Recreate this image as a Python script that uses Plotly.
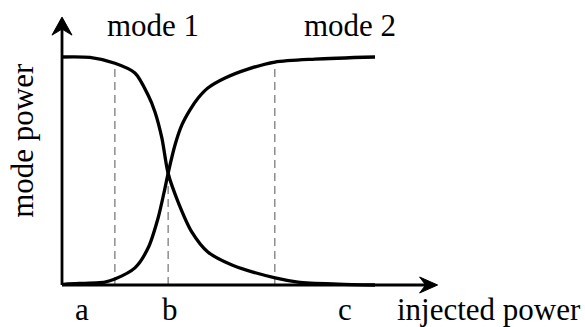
import plotly.graph_objects as go

# ---- data (x = injected power, y = mode power, normalised) ----
mode1_x = [0, 0.89, 1.69, 2.33, 2.75, 2.97, 3.19, 3.39, 3.71, 4.15, 4.66, 5.43, 6.81, 7.54, 8.82, 10.0]
mode1_y = [1.0, 0.998, 0.9725, 0.93, 0.833, 0.759, 0.645, 0.49, 0.364, 0.232, 0.145, 0.088, 0.031, 0.013, 0.004, 0.0]

mode2_x = [0, 0.19, 1.37, 1.69, 2.33, 2.75, 3.07, 3.29, 3.39, 3.61, 3.83, 4.09, 4.35, 4.66, 5.21, 5.94, 6.80, 8.08, 10.0]
mode2_y = [0.002, 0.005, 0.013, 0.026, 0.075, 0.162, 0.294, 0.425, 0.49, 0.614, 0.702, 0.768, 0.820, 0.864, 0.908, 0.947, 0.978, 0.991, 1.0]

marker_x = [1.69, 3.39, 6.80]          # dashed guide lines
marker_top = [0.9725, 0.49, 0.978]

region_labels = ["a", "b", "c"]
region_label_x = [0.64, 3.45, 9.04]

x_axis_end = 12.0
y_axis_end = 1.175

W, H = 585, 327
x_range = [-1.981, 16.709]
y_range = [-0.1842, 1.25]
px_x = W / (x_range[1] - x_range[0])
px_y = H / (y_range[1] - y_range[0])

FONT = "Liberation Serif"
FS = 31

fig = go.Figure()

# dashed guides
for xv, top in zip(marker_x, marker_top):
    fig.add_trace(go.Scatter(x=[xv, xv], y=[0, top], mode="lines",
                             line=dict(color="#555555", width=1, dash="8px,5px"),
                             hoverinfo="skip", showlegend=False))

# curves
for xs, ys in [(mode1_x, mode1_y), (mode2_x, mode2_y)]:
    fig.add_trace(go.Scatter(x=xs, y=ys, mode="lines",
                             line=dict(color="black", width=3.3, shape="spline", smoothing=0.8),
                             hoverinfo="skip", showlegend=False))

# axes
fig.add_trace(go.Scatter(x=[0, 0, None, 0, x_axis_end - 3 / px_x],
                         y=[0, y_axis_end - 3 / px_y, None, 0, 0],
                         mode="lines", line=dict(color="black", width=2.8),
                         hoverinfo="skip", showlegend=False))

# arrow heads (notched chevrons)
def head(tx, ty, dx, dy, length=18, half=9, notch=6):
    px_, py_ = -dy, dx
    pts = [
        (0, 0),
        (-length * dx + half * px_, -length * dy + half * py_),
        (-(length - notch) * dx, -(length - notch) * dy),
        (-length * dx - half * px_, -length * dy - half * py_),
        (0, 0),
    ]
    return [tx + a / px_x for a, b in pts], [ty + b / px_y for a, b in pts]

for (tx, ty, dx, dy, half) in [(0, y_axis_end, 0, 1, 10), (x_axis_end, 0, 1, 0, 8)]:
    hx, hy = head(tx, ty, dx, dy, half=half)
    fig.add_trace(go.Scatter(x=hx, y=hy, mode="lines", fill="toself", fillcolor="black",
                             line=dict(color="black", width=1),
                             hoverinfo="skip", showlegend=False))

ann = []
def label(text, x, y, angle=0):
    ann.append(dict(text=text, x=x, y=y, xref="x", yref="y", showarrow=False,
                    xanchor="center", yanchor="middle", textangle=angle,
                    font=dict(family=FONT, size=FS, color="black")))

label("mode 1", 2.91, 1.140)
label("mode 2", 9.20, 1.140)
for t, xv in zip(region_labels, region_label_x):
    label(t, xv, -0.106)
label("injected power", 13.63, -0.106)
label("mode power", -1.25, 0.636, angle=-90)

fig.update_layout(
    width=W, height=H, margin=dict(l=0, r=0, t=0, b=0),
    paper_bgcolor="white", plot_bgcolor="white",
    xaxis=dict(range=x_range, visible=False, fixedrange=True),
    yaxis=dict(range=y_range, visible=False, fixedrange=True),
    annotations=ann, showlegend=False,
)

fig.write_html("out.html", config={"displayModeBar": False},
               post_script="document.body.style.margin='0';document.body.style.overflow='hidden';")
